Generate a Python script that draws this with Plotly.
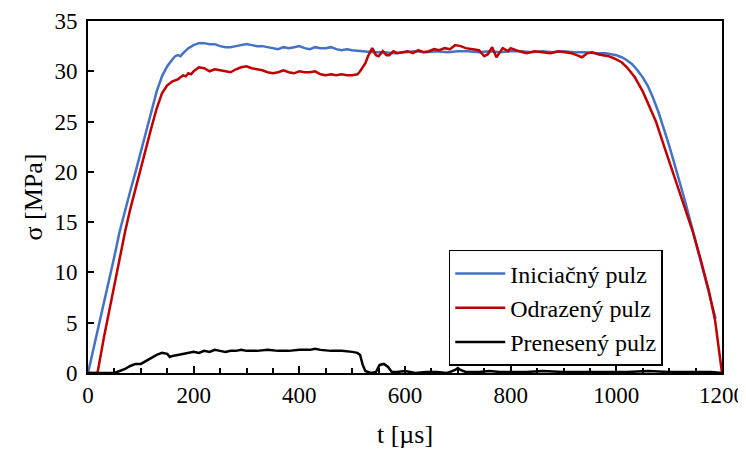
import plotly.graph_objects as go

# Iniciačný pulz
t_ini = [0, 10, 20, 30, 40, 50, 60, 70, 80, 90, 100, 110, 120, 130, 140, 150, 160, 165, 170, 175, 180, 190, 200, 210, 220, 230, 240, 250, 260, 270, 280, 290, 300, 310, 320, 330, 340, 350, 360, 370, 380, 390, 400, 410, 420, 430, 440, 450, 460, 470, 480, 490, 500, 520, 540, 560, 580, 600, 620, 640, 660, 680, 700, 720, 740, 760, 780, 800, 820, 840, 860, 880, 900, 920, 940, 960, 980, 1000, 1010, 1020, 1030, 1040, 1050, 1060, 1070, 1080, 1090, 1100, 1110, 1120, 1130, 1140, 1150, 1160, 1170, 1180, 1188]
s_ini = [0.0, 2.3, 4.6, 6.8, 9.2, 11.6, 14.1, 16.2, 18.1, 20.0, 22.0, 24.0, 26.0, 28.0, 29.5, 30.5, 31.2, 31.5, 31.6, 31.5, 31.8, 32.3, 32.6, 32.8, 32.8, 32.7, 32.7, 32.5, 32.4, 32.4, 32.5, 32.6, 32.7, 32.6, 32.5, 32.5, 32.4, 32.3, 32.2, 32.4, 32.3, 32.4, 32.5, 32.3, 32.2, 32.4, 32.3, 32.3, 32.4, 32.2, 32.1, 32.2, 32.1, 32.0, 31.9, 31.9, 31.8, 31.9, 32.0, 31.9, 32.0, 31.9, 32.0, 32.0, 31.9, 32.0, 31.9, 32.0, 32.0, 31.9, 32.0, 31.9, 32.0, 31.9, 31.9, 31.8, 31.8, 31.6, 31.4, 31.1, 30.7, 30.1, 29.4, 28.5, 27.3, 25.9, 24.3, 22.6, 20.8, 19.0, 17.1, 15.1, 13.1, 11.1, 9.2, 7.2, 5.4]

# Odrazený pulz
t_odr = [0, 18, 30, 40, 50, 60, 70, 80, 90, 100, 110, 120, 130, 140, 150, 160, 170, 180, 185, 190, 195, 200, 210, 220, 230, 240, 250, 260, 270, 280, 290, 300, 310, 320, 330, 340, 350, 360, 370, 380, 390, 400, 410, 420, 430, 440, 450, 460, 470, 480, 490, 500, 510, 515, 525, 530, 538, 545, 550, 558, 565, 570, 578, 585, 595, 605, 615, 625, 635, 645, 655, 665, 675, 685, 695, 705, 715, 730, 740, 750, 757, 765, 773, 785, 795, 800, 815, 830, 845, 860, 875, 890, 905, 915, 925, 935, 945, 955, 965, 975, 985, 995, 1010, 1020, 1035, 1050, 1062, 1075, 1090, 1105, 1115, 1125, 1135, 1145, 1160, 1175, 1187, 1195, 1200]
s_odr = [0.0, 0.0, 3.5, 6.2, 8.9, 11.5, 14.0, 16.3, 18.4, 20.4, 22.4, 24.4, 26.3, 27.8, 28.6, 29.0, 29.2, 29.6, 29.5, 29.8, 29.7, 30.0, 30.4, 30.3, 30.0, 30.2, 30.1, 30.0, 29.9, 30.2, 30.4, 30.5, 30.3, 30.2, 30.1, 29.9, 29.8, 29.9, 30.1, 29.9, 29.8, 30.0, 29.9, 29.9, 30.0, 29.7, 29.6, 29.7, 29.6, 29.7, 29.6, 29.6, 29.7, 30.0, 30.8, 31.5, 32.3, 31.6, 31.5, 32.0, 31.6, 31.6, 32.0, 31.8, 31.9, 32.0, 31.8, 32.1, 31.9, 32.0, 32.2, 32.1, 32.3, 32.2, 32.6, 32.5, 32.3, 32.2, 32.1, 31.5, 31.7, 32.4, 31.4, 32.3, 32.0, 32.3, 32.0, 31.8, 32.0, 31.9, 31.8, 32.0, 31.9, 31.8, 31.6, 31.4, 31.8, 31.9, 31.7, 31.6, 31.5, 31.3, 30.9, 30.4, 29.4, 28.0, 26.6, 25.0, 22.6, 20.2, 18.6, 17.0, 15.6, 14.0, 11.2, 8.2, 5.2, 2.2, 0.0]

# Prenesený pulz
t_pre = [0, 50, 60, 70, 80, 90, 100, 110, 120, 130, 140, 150, 155, 160, 170, 180, 190, 200, 210, 220, 230, 240, 250, 260, 270, 280, 290, 300, 320, 340, 360, 380, 400, 420, 430, 440, 460, 480, 500, 510, 515, 520, 525, 535, 545, 552, 560, 568, 575, 585, 600, 620, 640, 660, 680, 695, 700, 705, 715, 740, 760, 780, 800, 830, 860, 900, 940, 980, 1020, 1060, 1100, 1140, 1180, 1200]
s_pre = [0.0, 0.0, 0.2, 0.4, 0.7, 0.9, 0.9, 1.2, 1.5, 1.8, 2.0, 1.9, 1.6, 1.7, 1.8, 1.9, 2.0, 2.1, 2.0, 2.2, 2.1, 2.3, 2.2, 2.1, 2.2, 2.2, 2.3, 2.2, 2.2, 2.3, 2.2, 2.2, 2.3, 2.3, 2.4, 2.3, 2.2, 2.2, 2.1, 2.0, 1.8, 0.8, 0.2, 0.0, 0.1, 0.8, 0.9, 0.6, 0.1, 0.1, 0.2, 0.0, 0.1, 0.1, 0.0, 0.3, 0.5, 0.3, 0.1, 0.1, 0.2, 0.1, 0.1, 0.1, 0.2, 0.1, 0.1, 0.1, 0.1, 0.2, 0.1, 0.1, 0.1, 0.0]

series = [
    ("Iniciačný pulz", t_ini, s_ini, "#4472C4"),
    ("Odrazený pulz", t_odr, s_odr, "#C00000"),
    ("Prenesený pulz", t_pre, s_pre, "#000000"),
]

x_ticks = [0, 200, 400, 600, 800, 1000, 1200]
y_ticks = [0, 5, 10, 15, 20, 25, 30, 35]

FONT = "Liberation Serif"
FS_TICK = 23
FS_TITLE = 26
FS_LEG = 24

fig = go.Figure()
for name, t, s, c in series:
    fig.add_trace(go.Scatter(x=t, y=s, mode="lines", name=name,
                             line=dict(color=c, width=2.5)))

# page body has an 8px default margin, so the figure is sized to the remaining area
fig.update_layout(
    width=738, height=442,
    margin=dict(l=80, r=24, t=13, b=77),
    paper_bgcolor="white", plot_bgcolor="white",
    font=dict(family=FONT, size=FS_TICK, color="black"),
    showlegend=True,
    legend=dict(x=0.569, y=0.185, xanchor="left", yanchor="middle",
                bordercolor="black", borderwidth=1.5, bgcolor="white",
                font=dict(family=FONT, size=FS_LEG, color="black"),
                itemwidth=50, tracegroupgap=0),
)
fig.update_xaxes(
    range=[0, 1200], tickvals=x_ticks, ticktext=[str(v) for v in x_ticks],
    ticks="inside", ticklen=7, tickwidth=1.5, tickcolor="black",
    tickfont=dict(family=FONT, size=FS_TICK),
    minor=dict(dtick=50, ticks="inside", ticklen=5, tickwidth=1.5, tickcolor="black"),
    showline=True, linecolor="black", linewidth=2, mirror=True,
    showgrid=False, zeroline=False, automargin=False, ticklabeloverflow="allow",
    title=dict(text="t [µs]", font=dict(family=FONT, size=FS_TITLE), standoff=18),
)
fig.update_yaxes(
    range=[0, 35], tickvals=y_ticks, ticktext=[str(v) for v in y_ticks],
    ticks="inside", ticklen=6, tickwidth=1.5, tickcolor="black",
    tickfont=dict(family=FONT, size=FS_TICK),
    showline=True, linecolor="black", linewidth=2, mirror=True,
    showgrid=False, zeroline=False, automargin=False, ticklabeloverflow="allow",
    ticklabelstandoff=4,
    title=dict(text="σ [MPa]", font=dict(family=FONT, size=FS_TITLE), standoff=4),
)

fig.write_html("out.html")
